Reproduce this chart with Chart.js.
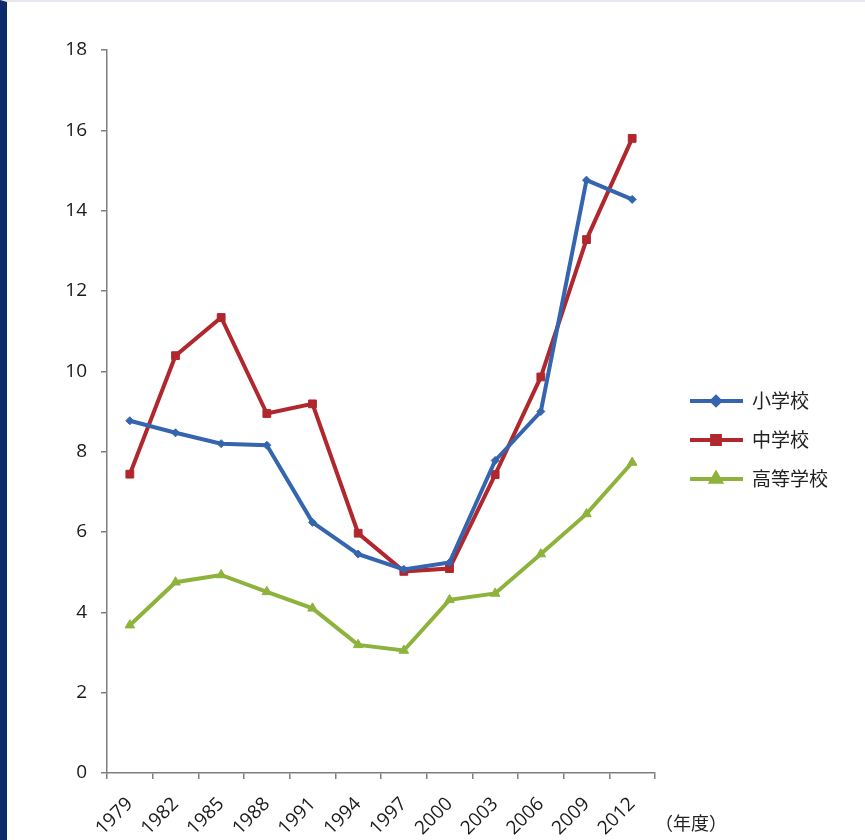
<!DOCTYPE html>
<html>
<head>
<meta charset="utf-8">
<script src="https://cdn.jsdelivr.net/npm/chart.js@4"></script>
<style>
  html, body { margin: 0; padding: 0; background: #fff; }
  #frame { width: 858px; height: 838px; border-left: 7px solid #0d2b6b; border-top: 2px solid #e6e8ef; }
  canvas { display: block; }
</style>
</head>
<body>
<div id="frame"><canvas id="chart" width="858" height="838"></canvas></div>
<script>
'use strict';
const years      = ['1979','1982','1985','1988','1991','1994','1997','2000','2003','2006','2009','2012'];
const elementary = [8.77, 8.47, 8.2, 8.16, 6.24, 5.45, 5.07, 5.24, 7.78, 9.0, 14.76, 14.28];
const juniorHigh = [7.44, 10.39, 11.34, 8.95, 9.19, 5.97, 5.02, 5.09, 7.43, 9.86, 13.28, 15.8];
const highSchool = [3.68, 4.75, 4.93, 4.51, 4.1, 3.19, 3.05, 4.31, 4.47, 5.45, 6.45, 7.73];
const seriesNames = ['小学校', '中学校', '高等学校'];
const yTicks = [0, 2, 4, 6, 8, 10, 12, 14, 16, 18];
const unitLabel = '（年度）';

const colors = ['#3465ae', '#b0272d', '#8db33c'];
const styles = ['rectRot', 'rect', 'triangle'];
const radii  = [4, 5.5, 5.5];
const jpFont = '"Noto Sans CJK JP", "Noto Sans", sans-serif';
const numFont = '"Open Sans", "Noto Sans", sans-serif';

const legendPlugin = {
  id: 'sideLegend',
  afterDraw(chart) {
    const ctx = chart.ctx;
    const x0 = 683, rowY = [399, 438, 477];
    ctx.save();
    chart.data.datasets.forEach((ds, i) => {
      const y = rowY[i];
      ctx.strokeStyle = ds.borderColor;
      ctx.lineWidth = 4;
      ctx.beginPath();
      ctx.moveTo(x0, y);
      ctx.lineTo(x0 + 53, y);
      ctx.stroke();
      Chart.helpers.drawPoint(ctx, {
        pointStyle: ds.pointStyle, radius: ds.pointRadius, borderWidth: 1, rotation: 0
      }, x0 + 26, y);
      ctx.fillStyle = ds.borderColor;
      ctx.fill();
      ctx.fillStyle = '#222';
      ctx.font = '19px ' + jpFont;
      ctx.textBaseline = 'middle';
      ctx.textAlign = 'left';
      ctx.fillText(ds.label, x0 + 62, y);
    });
    const area = chart.chartArea;
    ctx.font = '18px ' + jpFont;
    ctx.fillStyle = '#222';
    ctx.fillText(unitLabel, area.right, area.bottom + 50);
    ctx.restore();
  }
};

const makeSet = (label, data, i) => ({
  label, data,
  borderColor: colors[i],
  backgroundColor: colors[i],
  borderWidth: 4,
  pointStyle: styles[i],
  pointRadius: radii[i],
  pointBorderWidth: 1,
  pointBorderColor: colors[i],
  tension: 0,
});

new Chart(document.getElementById('chart'), {
  type: 'line',
  data: {
    labels: years,
    datasets: [
      makeSet(seriesNames[0], elementary, 0),
      makeSet(seriesNames[1], juniorHigh, 1),
      makeSet(seriesNames[2], highSchool, 2),
    ],
  },
  options: {
    responsive: false,
    animation: false,
    layout: { padding: { top: 48, right: 210, left: 0, bottom: 0 } },
    plugins: { legend: { display: false }, tooltip: { enabled: false } },
    scales: {
      x: {
        offset: true,
        grid: { offset: true, drawOnChartArea: false, drawTicks: true, tickLength: 6, color: '#7f7f7f', lineWidth: 1.5 },
        border: { display: true, color: '#7f7f7f', width: 1.5 },
        ticks: { color: '#1a1a1a', font: { family: numFont, size: 19 }, maxRotation: 45, minRotation: 45, padding: 14, autoSkip: false },
        afterFit(s) { s.height = 67; },
      },
      y: {
        min: 0, max: 18,
        afterBuildTicks(s) { s.ticks = yTicks.map(v => ({ value: v })); },
        grid: { drawOnChartArea: false, drawTicks: true, tickLength: 6, color: '#7f7f7f', lineWidth: 1.5 },
        border: { display: true, color: '#7f7f7f', width: 1.5 },
        ticks: { color: '#1a1a1a', font: { family: numFont, size: 19 }, padding: 14 },
        afterFit(s) { s.width = 100; },
      },
    },
  },
  plugins: [legendPlugin],
});
</script>
</body>
</html>
